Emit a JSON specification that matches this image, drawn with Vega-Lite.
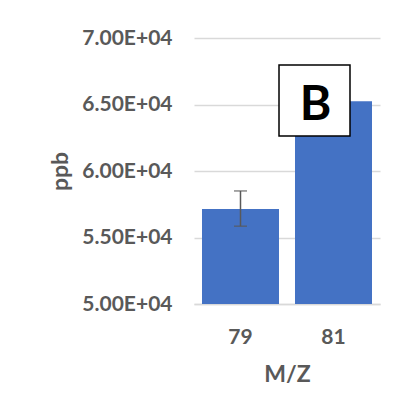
{
  "$schema": "https://vega.github.io/schema/vega-lite/v6.json",
  "width": 186,
  "height": 266,
  "autosize": {"type": "none"},
  "padding": {"left": 194, "top": 38, "right": 19, "bottom": 115},
  "background": "white",
  "config": {"view": {"stroke": null}, "font": "Lato"},
  "datasets": {
    "bars": [
      {"mz": "79", "ppb": 57150, "low": 55850, "high": 58500},
      {"mz": "81", "ppb": 65250}
    ],
    "note": [{"mz": "81", "ppb": 65300, "label": "B"}]
  },
  "layer": [
    {
      "data": {"name": "bars"},
      "mark": {"type": "bar", "color": "#4472c4", "clip": true},
      "encoding": {
        "x": {
          "field": "mz", "type": "ordinal", "title": "M/Z",
          "scale": {"paddingInner": 0.172, "paddingOuter": 0.086},
          "axis": {
            "labelAngle": 0, "domain": true, "domainColor": "#d9d9d9", "domainWidth": 1.5,
            "ticks": false, "labelFontSize": 21, "labelFontWeight": "bold", "labelColor": "#595959",
            "labelPadding": 22, "titleFontSize": 23, "titleFontWeight": "bold", "titleColor": "#595959",
            "titlePadding": 16
          }
        },
        "y": {
          "field": "ppb", "type": "quantitative", "title": "ppb",
          "scale": {"domain": [50000, 70000], "zero": false},
          "axis": {
            "values": [50000, 55000, 60000, 65000, 70000],
            "labelExpr": "format(datum.value / 10000, '.2f') + 'E+04'",
            "domain": false, "ticks": false, "grid": true, "gridColor": "#d9d9d9", "gridWidth": 1.5,
            "labelFontSize": 21, "labelFontWeight": "bold", "labelColor": "#595959", "labelPadding": 22,
            "titleFontSize": 23, "titleFontWeight": "bold", "titleColor": "#595959", "titlePadding": 9
          }
        }
      }
    },
    {
      "data": {"name": "bars"},
      "transform": [{"filter": "isValid(datum.low)"}],
      "mark": {"type": "rule", "color": "#595959", "strokeWidth": 1.5},
      "encoding": {
        "x": {"field": "mz", "type": "ordinal", "title": "M/Z"},
        "y": {"field": "low", "type": "quantitative", "title": "ppb"},
        "y2": {"field": "high"}
      }
    },
    {
      "data": {"name": "bars"},
      "transform": [{"filter": "isValid(datum.low)"}, {"fold": ["low", "high"], "as": ["end", "val"]}],
      "mark": {"type": "tick", "color": "#595959", "size": 13, "thickness": 1.5, "orient": "horizontal"},
      "encoding": {
        "x": {"field": "mz", "type": "ordinal", "title": "M/Z"},
        "y": {"field": "val", "type": "quantitative", "title": "ppb"}
      }
    },
    {
      "data": {"name": "note"},
      "mark": {"type": "point", "shape": "square", "size": 5040, "filled": true, "fill": "white", "stroke": "black", "strokeWidth": 1.5, "opacity": 1, "xOffset": -19},
      "encoding": {
        "x": {"field": "mz", "type": "ordinal", "title": "M/Z"},
        "y": {"field": "ppb", "type": "quantitative", "title": "ppb"}
      }
    },
    {
      "data": {"name": "note"},
      "mark": {"type": "text", "fontSize": 48, "fontWeight": "bold", "color": "black", "baseline": "middle", "align": "center", "xOffset": -18, "dy": 5},
      "encoding": {
        "x": {"field": "mz", "type": "ordinal", "title": "M/Z"},
        "y": {"field": "ppb", "type": "quantitative", "title": "ppb"},
        "text": {"field": "label"}
      }
    }
  ]
}
